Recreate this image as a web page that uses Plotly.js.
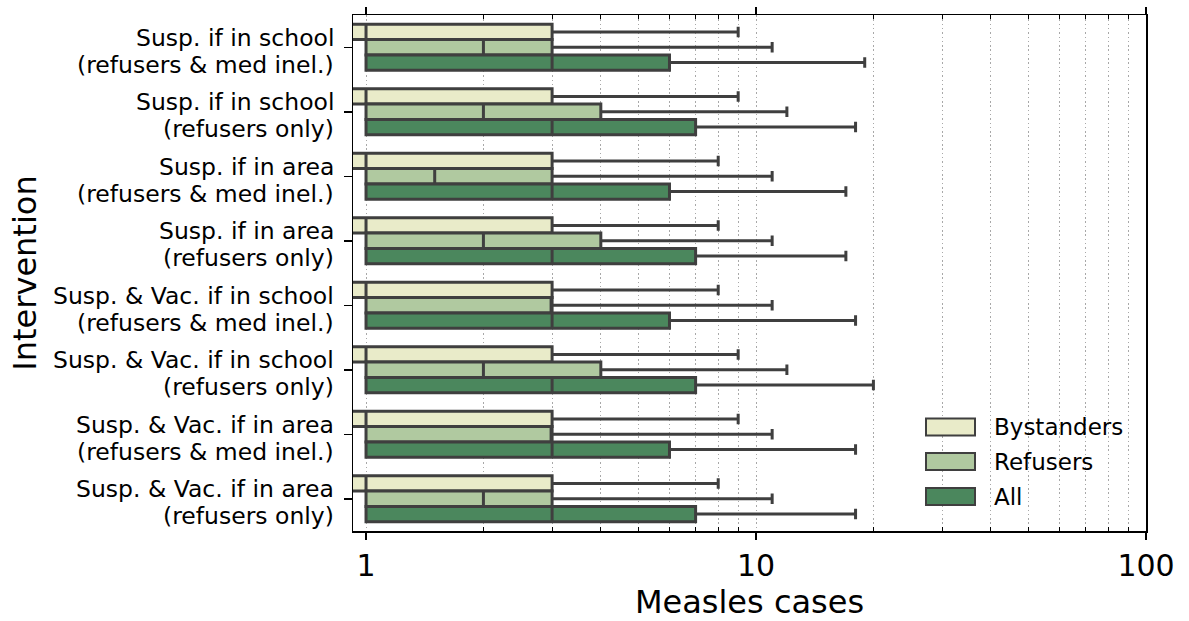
<!DOCTYPE html>
<html><head><meta charset="utf-8">
<script src="https://cdn.plot.ly/plotly-3.0.1.min.js"></script>
<style>html,body{margin:0;padding:0;background:#fff}</style>
</head><body>
<div id="chart" style="width:1189px;height:621px"></div>
<script>
// ---- data ----
const interventions = [
  "Susp. if in school<br>(refusers & med inel.)",
  "Susp. if in school<br>(refusers only)",
  "Susp. if in area<br>(refusers & med inel.)",
  "Susp. if in area<br>(refusers only)",
  "Susp. & Vac. if in school<br>(refusers & med inel.)",
  "Susp. & Vac. if in school<br>(refusers only)",
  "Susp. & Vac. if in area<br>(refusers & med inel.)",
  "Susp. & Vac. if in area<br>(refusers only)"
];
const seriesNames = ["Bystanders", "Refusers", "All"];

const bystQ1     = [0, 0, 0, 0, 0, 0, 0, 0];
const bystMedian = [1, 1, 1, 1, 1, 1, 1, 1];
const bystQ3     = [3, 3, 3, 3, 3, 3, 3, 3];
const bystUpper  = [9, 9, 8, 8, 8, 9, 9, 8];

const refQ1      = [1, 1, 1, 1, 1, 1, 1, 1];
const refMedian  = [2, 2, 1.5, 2, 3, 2, 3, 2];
const refQ3      = [3, 4, 3, 4, 3, 4, 3, 3];
const refUpper   = [11, 12, 11, 11, 11, 12, 11, 11];

const allQ1      = [1, 1, 1, 1, 1, 1, 1, 1];
const allMedian  = [3, 3, 3, 3, 3, 3, 3, 3];
const allQ3      = [6, 7, 6, 7, 6, 7, 6, 7];
const allUpper   = [19, 18, 17, 17, 18, 20, 18, 18];

const xTickVals = [1, 10, 100];
const xTickText = ["1", "10", "100"];
const xMinorVals = [2, 3, 4, 5, 6, 7, 8, 9, 20, 30, 40, 50, 60, 70, 80, 90];

// ---- styling ----
const colors = ["#e9ebc9", "#b0c9a0", "#4b875d"];
const edge = "#3f3f3f";
const gridDash = "1.5px,2.8px";
const gridColor = "#a8a8a8";
const LOG_FLOOR = 0.5; // zero cannot be drawn on a log axis; it lies left of the visible range

const L = 353, R = 43, T = 15, B = 90, FW = 1189, FH = 621;
const PW = FW - L - R, PH = FH - T - B;
const px2x = p => (p - L) / PW;
const px2y = p => (FH - B - p) / PH;

const floorLog = arr => arr.map(v => (v > 0 ? v : LOG_FLOOR));

const stats = [
  [bystQ1, bystMedian, bystQ3, bystUpper],
  [refQ1, refMedian, refQ3, refUpper],
  [allQ1, allMedian, allQ3, allUpper]
];

const traces = stats.map((s, i) => ({
  type: "box",
  orientation: "h",
  name: seriesNames[i],
  y: interventions,
  q1: floorLog(s[0]),
  median: s[1],
  q3: s[2],
  lowerfence: floorLog(s[0]),
  upperfence: s[3],
  fillcolor: colors[i],
  line: { color: edge, width: 3 },
  whiskerwidth: 0.7,
  boxpoints: false,
  hoverinfo: "x+name"
}));

const shapes = [], annotations = [];

// two-line category labels (matplotlib-like tighter line spacing)
interventions.forEach((lab, i) => {
  const lines = lab.split("<br>");
  const shifts = [9.5, -17.3];
  lines.forEach((ln, k) => {
    annotations.push({
      xref: "paper", yref: "y", x: px2x(336), y: i,
      xanchor: "right", yanchor: "middle", yshift: shifts[k],
      showarrow: false, text: ln,
      font: { size: 23.5, color: "#000", family: "DejaVu Sans" }
    });
  });
});

// custom legend with wide swatches
const legCenters = [427, 461.5, 496.5];
seriesNames.forEach((n, i) => {
  shapes.push({
    type: "rect", xref: "paper", yref: "paper",
    x0: px2x(926), x1: px2x(975),
    y0: px2y(legCenters[i] + 8.5), y1: px2y(legCenters[i] - 8.5),
    fillcolor: colors[i], line: { color: edge, width: 2 }
  });
  annotations.push({
    xref: "paper", yref: "paper", x: px2x(992), y: px2y(legCenters[i]),
    xanchor: "left", yanchor: "middle", showarrow: false,
    text: n, font: { size: 23, color: "#000", family: "DejaVu Sans" }
  });
});

const layout = {
  width: FW, height: FH,
  margin: { l: L, r: R, t: T, b: B },
  paper_bgcolor: "#fff", plot_bgcolor: "#fff",
  font: { family: "DejaVu Sans", color: "#000" },
  boxmode: "group", boxgap: 0.29, boxgroupgap: 0,
  showlegend: false,
  xaxis: {
    type: "log", range: [Math.log10(0.926), 2],
    tickmode: "array", tickvals: xTickVals, ticktext: xTickText,
    ticks: "outside", ticklen: 7, tickwidth: 1.5, tickcolor: "#000",
    showline: true, linecolor: "#000", linewidth: 1.5, mirror: "allticks",
    showgrid: true, gridcolor: gridColor, griddash: gridDash, gridwidth: 1,
    zeroline: false,
    tickfont: { size: 30 },
    title: { text: "Measles cases", font: { size: 32 }, standoff: 10 },
    minor: {
      tickmode: "array", tickvals: xMinorVals,
      ticks: "inside", ticklen: 4, tickwidth: 1, tickcolor: "#000",
      showgrid: true, gridcolor: gridColor, griddash: gridDash, gridwidth: 1
    }
  },
  yaxis: {
    type: "category", range: [7.5, -0.5],
    ticks: "outside", ticklen: 8, tickwidth: 1.5, tickcolor: "#000",
    showline: true, linecolor: "#000", linewidth: 1.5, mirror: true,
    showgrid: false, zeroline: false, showticklabels: false,
    title: { text: "Intervention", font: { size: 32 }, standoff: 297 }
  },
  shapes: shapes,
  annotations: annotations
};

Plotly.newPlot("chart", traces, layout, { displayModeBar: false, staticPlot: true });
</script>
</body></html>
